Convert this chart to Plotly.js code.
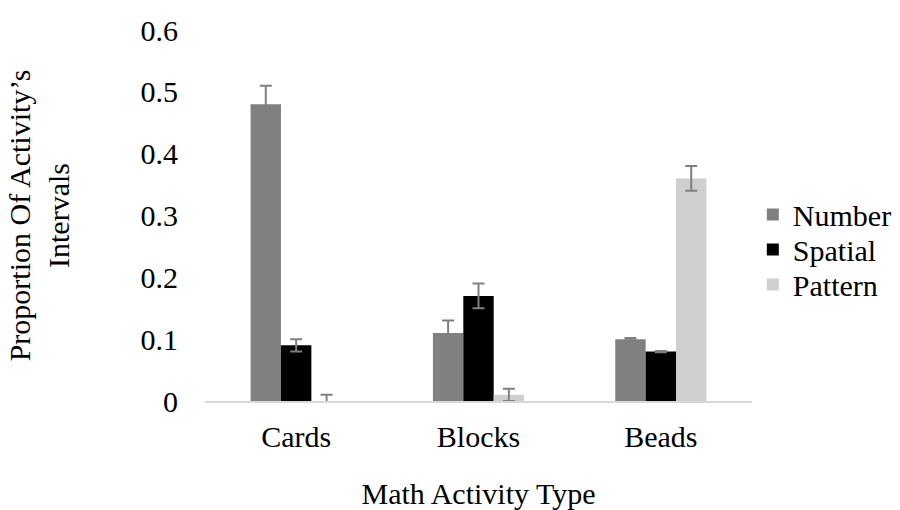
<!DOCTYPE html>
<html>
<head>
<meta charset="utf-8">
<script src="https://cdn.plot.ly/plotly-3.0.1.min.js"></script>
<style>html,body{margin:0;padding:0;background:#fff;}#chart{width:900px;height:510px;}</style>
</head>
<body>
<div id="chart"></div>
<script>
const categories = ["Cards", "Blocks", "Beads"];
const seriesNames = ["Number", "Spatial", "Pattern"];
const numberValues = [0.48, 0.11, 0.10];
const numberErrors = [0.03, 0.02, 0.002];
const spatialValues = [0.09, 0.17, 0.08];
const spatialErrors = [0.01, 0.02, 0.001];
const patternValues = [0.0, 0.01, 0.36];
const patternErrors = [0.01, 0.01, 0.02];
const yTickValues = [0, 0.1, 0.2, 0.3, 0.4, 0.5, 0.6];
const yTickLabels = ["0", "0.1", "0.2", "0.3", "0.4", "0.5", "0.6"];

const colors = ["#808080", "#000000", "#d0cfcf"];
const FONT = "'Liberation Serif'";

const values = [numberValues, spatialValues, patternValues];
const errors = [numberErrors, spatialErrors, patternErrors];
const legendIds = ["legend", "legend2", "legend3"];

const traces = seriesNames.map((name, i) => ({
  type: "bar",
  name: name,
  x: categories,
  y: values[i],
  legend: legendIds[i],
  marker: {color: colors[i]},
  error_y: {type: "data", array: errors[i], visible: true, color: "#808080", thickness: 2, width: 6},
  hoverinfo: "none"
}));

function legendAt(ypx) {
  return {
    x: 1.0015, xanchor: "left",
    y: (401 - ypx) / 371, yanchor: "middle",
    font: {family: FONT, size: 30, color: "#000000"},
    bgcolor: "rgba(0,0,0,0)"
  };
}

const layout = {
  width: 900,
  height: 510,
  margin: {l: 205, r: 148, t: 30, b: 109, autoexpand: false},
  paper_bgcolor: "#ffffff",
  plot_bgcolor: "#ffffff",
  font: {family: FONT, size: 30, color: "#000000"},
  barmode: "group",
  bargap: 0.5,
  bargroupgap: 0,
  showlegend: true,
  legend: legendAt(214.5),
  legend2: legendAt(249.5),
  legend3: legendAt(284.5),
  xaxis: {
    showgrid: false, zeroline: false,
    showline: true, linecolor: "#d9d9d9", linewidth: 1.5,
    ticks: "",
    tickfont: {family: FONT, size: 30, color: "#000000"},
    ticklabelstandoff: 8,
    title: {text: "Math Activity Type", font: {family: FONT, size: 30, color: "#000000"}, standoff: 34},
    automargin: false
  },
  yaxis: {
    range: [0, 0.6],
    showgrid: false, zeroline: false, showline: false,
    ticks: "",
    tickvals: yTickValues, ticktext: yTickLabels,
    tickfont: {family: FONT, size: 30, color: "#000000"},
    ticklabelstandoff: 26,
    title: {text: "Proportion Of Activity’s<br>Intervals", font: {family: FONT, size: 30, color: "#000000"}, standoff: 62},
    automargin: false
  }
};

Plotly.newPlot("chart", traces, layout, {displayModeBar: false, staticPlot: true});
</script>
</body>
</html>
